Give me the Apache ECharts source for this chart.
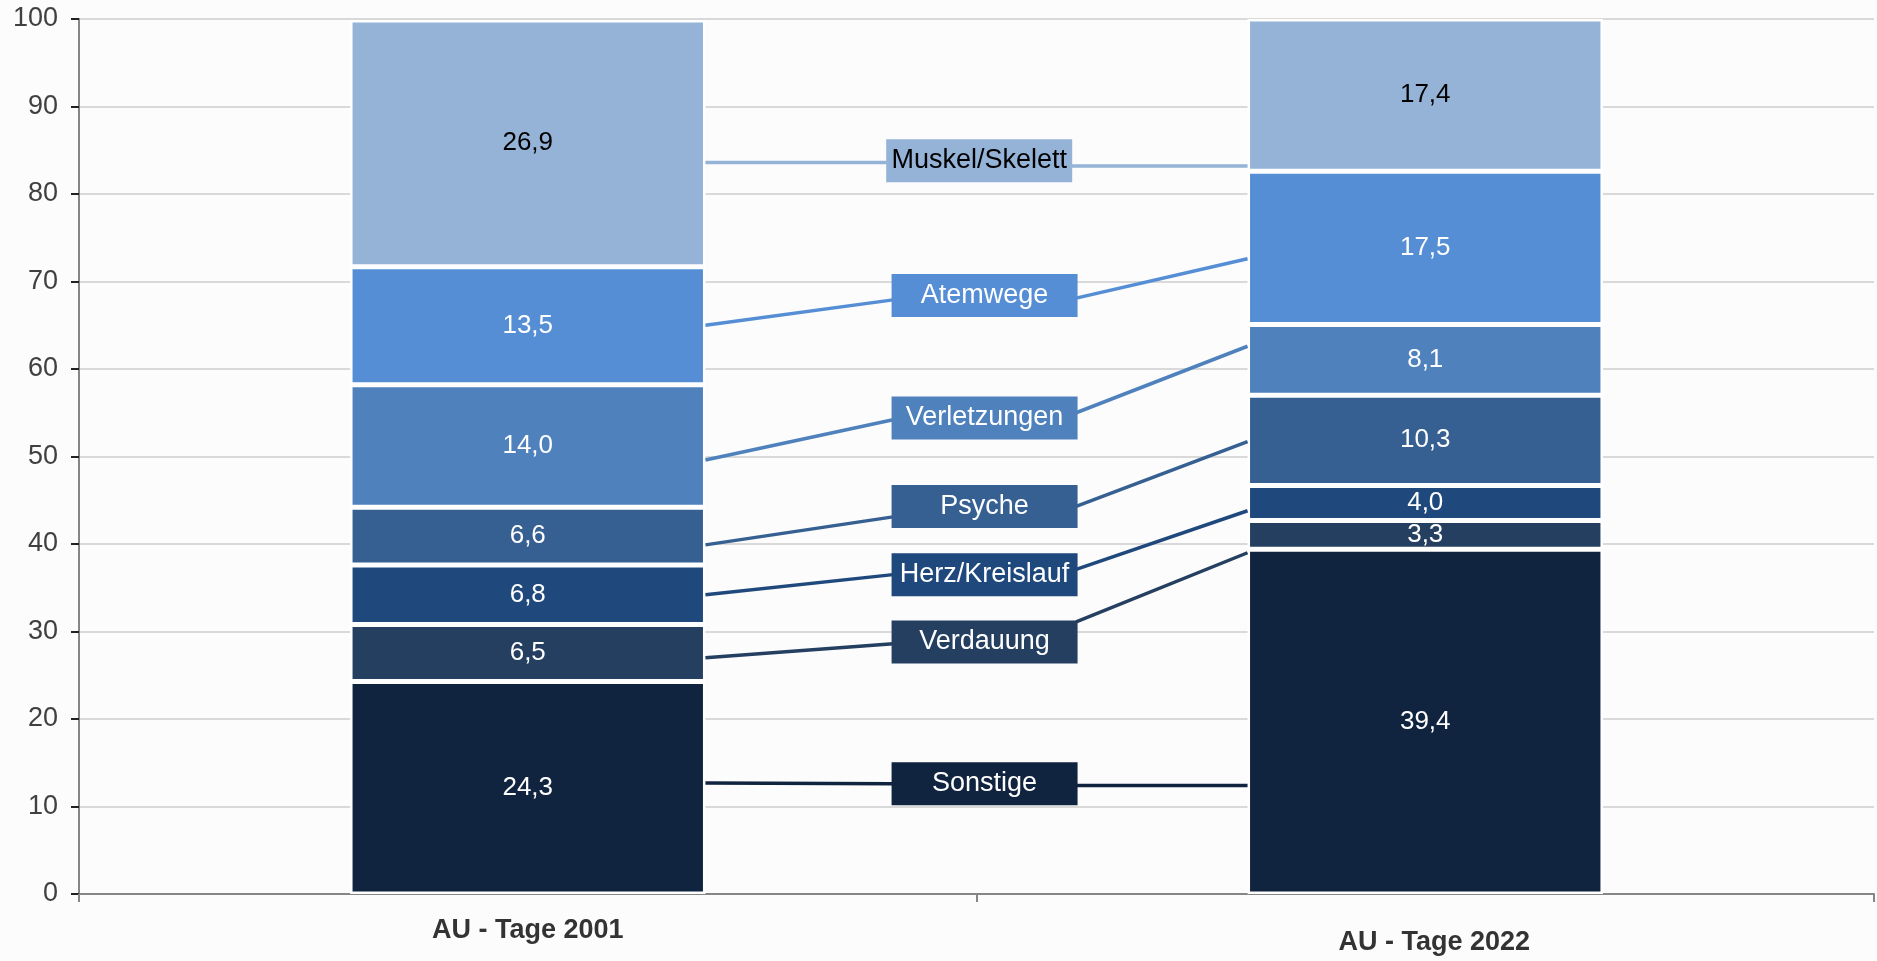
<!DOCTYPE html>
<html>
<head>
<meta charset="utf-8">
<style>
html,body{margin:0;padding:0;background:#fcfcfc;}
#chart{width:1877px;height:961px;}
</style>
<script src="https://cdn.jsdelivr.net/npm/echarts@6/dist/echarts.min.js"></script>
</head>
<body>
<div id="chart"></div>
<script>
// ---- data ----
const categories = ['AU - Tage 2001', 'AU - Tage 2022'];
const groups = ['Sonstige', 'Verdauung', 'Herz/Kreislauf', 'Psyche', 'Verletzungen', 'Atemwege', 'Muskel/Skelett'];
const sonstige     = [24.3, 39.4];
const verdauung    = [6.5, 3.3];
const herz         = [6.8, 4.0];
const psyche       = [6.6, 10.3];
const verletzungen = [14.0, 8.1];
const atemwege     = [13.5, 17.5];
const muskel       = [26.9, 17.4];
// height of the top segment as drawn in the source (the 2001 stack is drawn up to 100)
const muskelDrawn  = [28.2, 17.4];
const yTickMin = 0, yTickMax = 100, yTickStep = 10;

// ---- styles / layout (not data) ----
const colors = ['#11243f', '#253f60', '#1f497d', '#366092', '#4f81bd', '#558ed5', '#95b3d7'];
const textColors = ['#fff', '#fff', '#fff', '#fff', '#fff', '#fff', '#000'];
const FONT = "'Liberation Sans', Arial, sans-serif";
// annotation layout in axis units (x: 0..2 across plot, y: value axis)
const boxX = [1.009, 1.009, 1.009, 1.009, 1.009, 1.009, 1.003];
const boxY = [12.6, 28.8, 36.5, 44.3, 54.4, 68.4, 83.8];
const leaderX = [0.698, 0.907, 1.111, 1.302];
const leaderXMuskel = [0.698, 0.900, 1.106, 1.302];
const leaderY = [
  [12.7, 12.6, 12.4, 12.4],
  [27.0, 28.6, 31.1, 39.0],
  [34.2, 36.5, 37.1, 43.8],
  [39.9, 43.1, 44.3, 51.7],
  [49.6, 54.2, 55.0, 62.6],
  [65.0, 67.9, 68.1, 72.6],
  [83.6, 83.6, 83.2, 83.2]
];

const seriesValues = [sonstige, verdauung, herz, psyche, verletzungen, atemwege, muskel];
const fmt = v => v.toFixed(1).replace('.', ',');

const series = [];
groups.forEach((g, i) => {
  const vals = seriesValues[i];
  const drawn = (i === 6) ? muskelDrawn : vals;
  series.push({
    name: g,
    type: 'bar',
    stack: 'total',
    xAxisIndex: 0,
    yAxisIndex: 0,
    barWidth: '39.6%',
    data: drawn,
    itemStyle: { color: colors[i], borderColor: '#ffffff', borderWidth: 2.5 },
    label: {
      show: true,
      position: 'inside',
      formatter: p => fmt(vals[p.dataIndex]),
      color: textColors[i],
      fontSize: 26,
      fontFamily: FONT
    },
    emphasis: { disabled: true },
    z: 2
  });
  const lx = (i === 6) ? leaderXMuskel : leaderX;
  [[0, 1], [2, 3]].forEach(([a, b]) => {
    series.push({
      name: g + ' leader',
      type: 'line',
      xAxisIndex: 1,
      yAxisIndex: 0,
      data: [[lx[a], leaderY[i][a]], [lx[b], leaderY[i][b]]],
      symbol: 'none',
      lineStyle: { color: colors[i], width: 3.5, opacity: 1 },
      silent: true,
      z: 3
    });
  });
  series.push({
    name: g + ' box',
    type: 'scatter',
    xAxisIndex: 1,
    yAxisIndex: 0,
    data: [[boxX[i], boxY[i]]],
    symbolSize: 1,
    itemStyle: { color: 'rgba(0,0,0,0)', opacity: 1 },
    label: {
      show: true,
      position: 'inside',
      formatter: g,
      backgroundColor: colors[i],
      width: 186,
      height: 43,
      lineHeight: 43,
      align: 'center',
      verticalAlign: 'middle',
      color: textColors[i],
      opacity: 1,
      fontSize: 27,
      fontFamily: FONT
    },
    emphasis: { disabled: true },
    silent: true,
    z: 5
  });
});

const chart = echarts.init(document.getElementById('chart'), null, { renderer: 'canvas' });
chart.setOption({
  backgroundColor: '#fcfcfc',
  animation: false,
  grid: { left: 79, right: 3, top: 19, bottom: 67, containLabel: false },
  xAxis: [
    {
      type: 'category',
      data: [
        { value: categories[0] },
        { value: categories[1], textStyle: { padding: [12, 0, 0, 18] } }
      ],
      axisLine: { lineStyle: { color: '#868686', width: 2 } },
      axisTick: { show: true, length: 8, lineStyle: { color: '#868686', width: 2 } },
      axisLabel: { color: '#333333', fontSize: 27, fontWeight: 'bold', fontFamily: FONT, margin: 23 },
      splitLine: { show: false }
    },
    { type: 'value', min: 0, max: 2, show: false }
  ],
  yAxis: [{
    type: 'value',
    min: yTickMin,
    max: yTickMax,
    interval: yTickStep,
    axisLine: { show: true, lineStyle: { color: '#868686', width: 2 } },
    axisTick: { show: true, length: 8, lineStyle: { color: '#222', width: 2 } },
    axisLabel: { color: '#404040', fontSize: 27, fontFamily: FONT, margin: 21 },
    splitLine: { show: true, lineStyle: { color: '#d9d9d9', width: 2 } }
  }],
  series: series
});
</script>
</body>
</html>
